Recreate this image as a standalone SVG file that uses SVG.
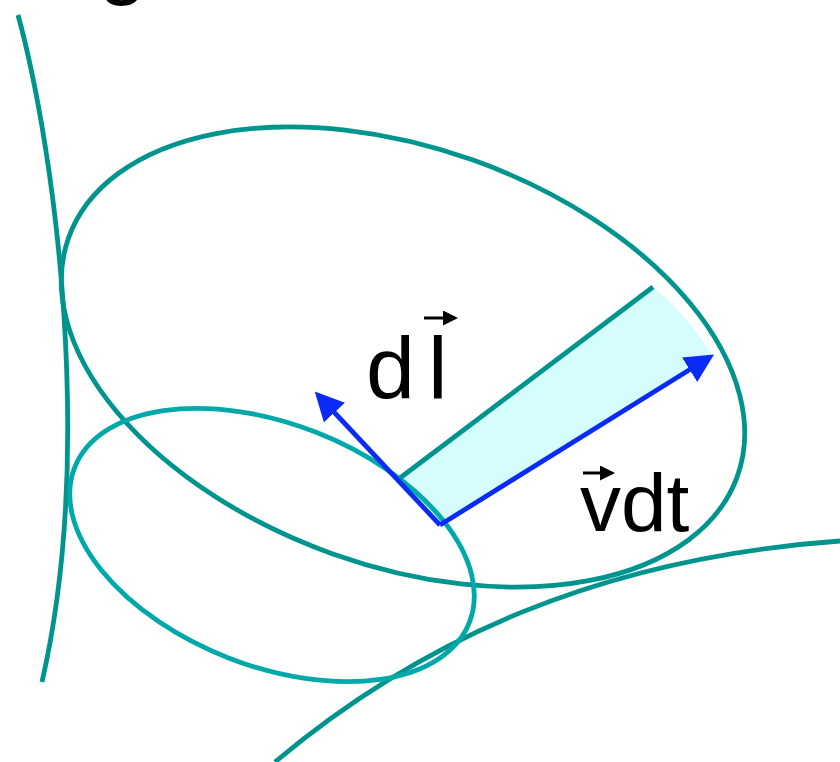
<svg xmlns="http://www.w3.org/2000/svg" width="840" height="762" viewBox="0 0 840 762">
<defs>
<style>
.dark{fill:none;stroke:#00948E;stroke-width:4.8}
.light{fill:none;stroke:#00A9A9;stroke-width:4.8}
.blue{fill:none;stroke:#0A2BF5;stroke-width:4.8}
.lbl{font-family:"Liberation Sans",Arial,sans-serif;fill:#000}
</style>
<marker id="bh" markerWidth="6" markerHeight="6" refX="5" refY="3" orient="auto" markerUnits="strokeWidth">
<path d="M0,0 L6,3 L0,6 Z" fill="#0A2BF5"/>
</marker>
<marker id="kh" markerWidth="5" markerHeight="5" refX="4" refY="2.5" orient="auto" markerUnits="strokeWidth">
<path d="M0,0 L5,2.5 L0,5 Z" fill="#000"/>
</marker>
</defs>
<text class="lbl" x="98" y="-12" font-size="88">g</text>
<g id="surface-left"><path class="dark" d="M18,15 C55,150 95,450 42,682"/></g>
<g id="surface-bottom"><path class="dark" d="M275,762 C420,640 600,558 840,541"/></g>
<g id="strip"><path d="M400,478 L653,287 Q690,318 713,357 L440,525 Z" fill="#D5FDFD"/></g>
<g id="ellipse-big"><ellipse class="dark" cx="403" cy="357" rx="355" ry="209" transform="rotate(19.6 403 357)"/></g>
<g id="ellipse-small"><ellipse class="light" cx="272" cy="545" rx="212" ry="121" transform="rotate(21.4 272 545)"/></g>
<g id="edge-line"><line class="dark" x1="400" y1="478" x2="653" y2="287"/></g>
<g id="connectors">
<line class="blue" x1="440" y1="525" x2="318" y2="395" marker-end="url(#bh)"/>
<line class="blue" x1="440" y1="525" x2="710" y2="357" marker-end="url(#bh)"/>
</g>
<g id="label-dl">
<text class="lbl" x="366" y="398" font-size="88">d</text>
<text class="lbl" x="428" y="398" font-size="88">l</text>
<line x1="424" y1="318" x2="455" y2="318" stroke="#000" stroke-width="3" marker-end="url(#kh)"/>
</g>
<g id="label-vdt">
<text class="lbl" x="580" y="531" font-size="82">vdt</text>
<line x1="583" y1="473" x2="612" y2="473" stroke="#000" stroke-width="3" marker-end="url(#kh)"/>
</g>
</svg>
